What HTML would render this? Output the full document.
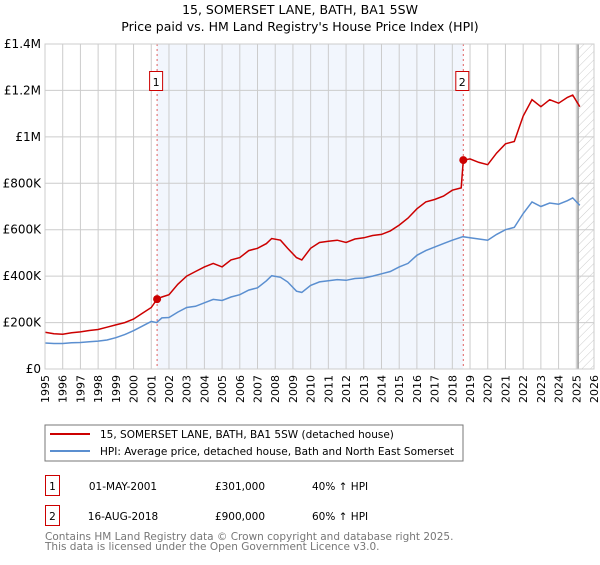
<!DOCTYPE html>
<html><head><meta charset="utf-8"><style>
body{margin:0;background:#fff;font-family:"Liberation Sans","DejaVu Sans",sans-serif;}
svg text{font-family:"DejaVu Sans","Liberation Sans",sans-serif;}
</style></head><body>
<svg id="chart" width="600" height="560" xmlns="http://www.w3.org/2000/svg">
<defs><pattern id="hatch" width="6" height="6" patternUnits="userSpaceOnUse" patternTransform="rotate(45)"><line x1="0" y1="0" x2="0" y2="6" stroke="#ccc" stroke-width="1"/></pattern></defs>
<text x="300" y="14" text-anchor="middle" font-size="12.5" fill="#000">15, SOMERSET LANE, BATH, BA1 5SW</text>
<text x="300" y="31" text-anchor="middle" font-size="12.5" fill="#000">Price paid vs. HM Land Registry's House Price Index (HPI)</text>
<g id="plot"></g>
<rect x="45" y="425" width="418" height="36" fill="#fff" stroke="#777"/>
<line x1="50" y1="434" x2="90" y2="434" stroke="#cc0000" stroke-width="2"/>
<text x="100" y="438" font-size="10.5">15, SOMERSET LANE, BATH, BA1 5SW (detached house)</text>
<line x1="50" y1="451" x2="90" y2="451" stroke="#5b8fd0" stroke-width="2"/>
<text x="100" y="455" font-size="10.5">HPI: Average price, detached house, Bath and North East Somerset</text>
<rect x="45.5" y="475.5" width="14" height="20" fill="#fff" stroke="#cc0000"/>
<text x="52.5" y="490" font-size="10.5" text-anchor="middle">1</text>
<text x="123" y="490" font-size="10.5" text-anchor="middle">01-MAY-2001</text>
<text x="240" y="490" font-size="10.5" text-anchor="middle">£301,000</text>
<text x="312" y="490" font-size="10.5">40% ↑ HPI</text>
<rect x="45.5" y="505.5" width="14" height="20" fill="#fff" stroke="#cc0000"/>
<text x="52.5" y="520" font-size="10.5" text-anchor="middle">2</text>
<text x="123" y="520" font-size="10.5" text-anchor="middle">16-AUG-2018</text>
<text x="240" y="520" font-size="10.5" text-anchor="middle">£900,000</text>
<text x="312" y="520" font-size="10.5">60% ↑ HPI</text>
<text x="45" y="540" font-size="10.5" fill="#777">Contains HM Land Registry data © Crown copyright and database right 2025.</text>
<text x="45" y="550" font-size="10.5" fill="#777">This data is licensed under the Open Government Licence v3.0.</text>
</svg>
<script>
const hpiYears=[1995,1995.5,1996,1996.5,1997,1997.5,1998,1998.5,1999,1999.5,2000,2000.5,2001,2001.3,2001.6,2002,2002.5,2003,2003.5,2004,2004.5,2005,2005.5,2006,2006.5,2007,2007.5,2007.8,2008.3,2008.7,2009.2,2009.5,2010,2010.5,2011,2011.5,2012,2012.5,2013,2013.5,2014,2014.5,2015,2015.5,2016,2016.5,2017,2017.5,2018,2018.6,2019,2019.5,2020,2020.5,2021,2021.5,2022,2022.5,2023,2023.5,2024,2024.5,2024.8,2025.2];
const hpiValues=[112,110,110,113,114,117,120,125,135,148,165,185,205,200,220,222,245,265,270,285,300,295,310,320,340,350,380,402,395,375,335,330,360,375,380,385,382,390,392,400,410,420,440,455,490,510,525,540,555,570,565,560,555,580,600,610,670,720,700,715,710,725,737,705];
const propYears=[1995,1995.5,1996,1996.5,1997,1997.5,1998,1998.5,1999,1999.5,2000,2000.5,2001,2001.33,2001.6,2002,2002.5,2003,2003.5,2004,2004.5,2005,2005.5,2006,2006.5,2007,2007.5,2007.8,2008.3,2008.7,2009.2,2009.5,2010,2010.5,2011,2011.5,2012,2012.5,2013,2013.5,2014,2014.5,2015,2015.5,2016,2016.5,2017,2017.5,2018,2018.5,2018.62,2019,2019.5,2020,2020.5,2021,2021.5,2022,2022.5,2023,2023.5,2024,2024.5,2024.8,2025.2];
const propValues=[158,152,150,156,160,166,170,180,190,200,215,240,265,301,310,320,365,400,420,440,455,440,470,480,510,520,540,562,555,520,480,470,520,545,550,555,545,560,565,575,580,595,620,650,690,720,730,745,770,780,900,905,890,880,930,970,980,1090,1160,1130,1160,1145,1170,1180,1130];
const saleYears=[2001.33,2018.62];
const saleValues=[301,900];
const yTicks=[0,200,400,600,800,1000,1200,1400];
const yTickLabels=["£0","£200K","£400K","£600K","£800K","£1M","£1.2M","£1.4M"];
const xTicks=[1995,1996,1997,1998,1999,2000,2001,2002,2003,2004,2005,2006,2007,2008,2009,2010,2011,2012,2013,2014,2015,2016,2017,2018,2019,2020,2021,2022,2023,2024,2025,2026];

const NS="http://www.w3.org/2000/svg";
const L=45,R=594,T=44,B=369;
const xs=y=>L+(y-1995)/(2026-1995)*(R-L);
const ys=v=>B-v/1400*(B-T);
const g=document.getElementById('plot');
function mk(tag,attrs){const e=document.createElementNS(NS,tag);for(const k in attrs)e.setAttribute(k,attrs[k]);g.appendChild(e);return e;}
let e;
e=mk('rect',{x:xs(saleYears[0]),y:T,width:xs(saleYears[1])-xs(saleYears[0]),height:B-T,fill:'#f2f6fd'});


e=mk('rect',{x:xs(2025.1),y:T,width:R-xs(2025.1),height:B-T,fill:'url(#hatch)'});


xTicks.forEach(t=>{
 const l=mk('line',{x1:xs(t),x2:xs(t),y1:T,y2:B,stroke:'#ccc','stroke-width':1});
 
 
 const tx=mk('text',{x:xs(t)+4,y:B+6,'font-size':11,transform:`rotate(-90 ${xs(t)+4} ${B+6})`,'text-anchor':'end'});
 tx.textContent=t;
 
 
});
yTicks.forEach((t,i)=>{
 const l=mk('line',{x1:L,x2:R,y1:ys(t),y2:ys(t),stroke:'#ccc','stroke-width':1});
 
 
 const tx=mk('text',{x:L-4,y:ys(t)+4,'font-size':12,'text-anchor':'end'});
 tx.textContent=yTickLabels[i];
 
 
});
e=mk('line',{x1:xs(2025.1),x2:xs(2025.1),y1:T,y2:B,stroke:'#999','stroke-width':1.5});


saleYears.forEach((y,i)=>{
 const l=mk('line',{x1:xs(y),x2:xs(y),y1:T,y2:B,stroke:'#e06060','stroke-width':1,'stroke-dasharray':'2,3'});
 
 
 const r=mk('rect',{x:xs(y)-7.5,y:71.5,width:13,height:19,fill:'#fff',stroke:'#cc0000'});
 
 
 const tx=mk('text',{x:xs(y)-1,y:86,'font-size':11,'text-anchor':'middle'});
 tx.textContent=String(i+1);
 
 
});
e=mk('path',{d:hpiYears.map((y,i)=>(i?'L':'M')+xs(y).toFixed(1)+','+ys(hpiValues[i]).toFixed(1)).join(''),fill:'none',stroke:'#5b8fd0','stroke-width':1.5});


e=mk('path',{d:propYears.map((y,i)=>(i?'L':'M')+xs(y).toFixed(1)+','+ys(propValues[i]).toFixed(1)).join(''),fill:'none',stroke:'#cc0000','stroke-width':1.5});


saleYears.forEach((y,i)=>{
 const c=mk('circle',{cx:xs(y),cy:ys(saleValues[i]),r:4,fill:'#cc0000'});
 
 
});
e=mk('rect',{x:L,y:T,width:R-L,height:B-T,fill:'none',stroke:'#ccc'});


</script>
</body></html>
